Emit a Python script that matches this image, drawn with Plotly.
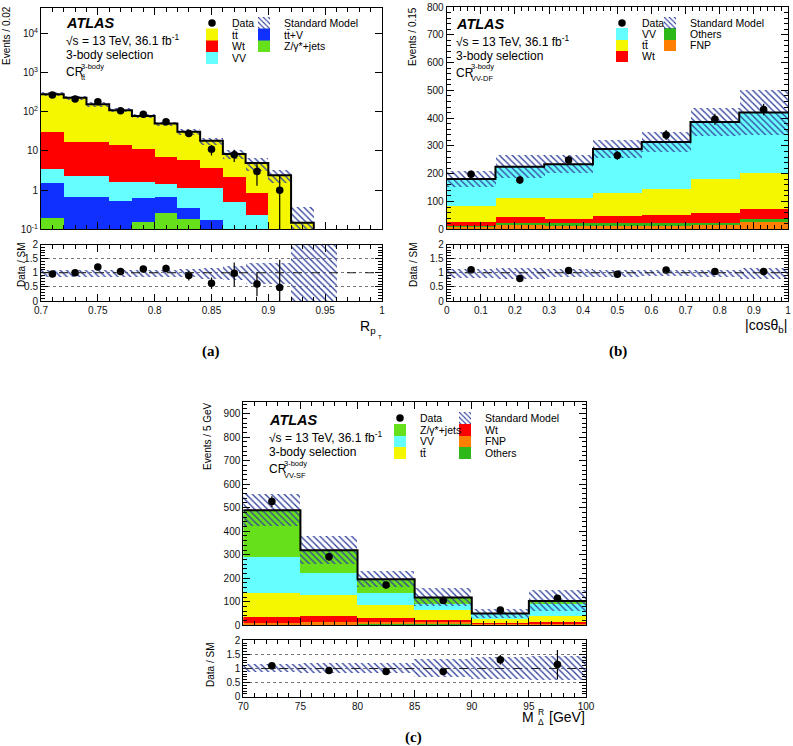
import plotly.graph_objects as go

W, H = 793, 746
FONT = "Liberation Sans, Arial, sans-serif"
TT = "tt\u0304"

# ---------------- panel (a): R_pT, CR_tt ----------------
a_edges = [0.70, 0.72, 0.74, 0.76, 0.78, 0.80, 0.82, 0.84, 0.86, 0.88, 0.90, 0.92, 0.94, 0.96, 0.98, 1.00]
a_zjets = [0.19, 0.03, 0.03, 0.02, 0.15, 0.26, 0.18, 0.05, 0.03, 0.02, 0, 0, 0, 0, 0]
a_ttv = [1.30, 0.65, 0.65, 0.51, 0.48, 0.42, 0.16, 0.12, 0.02, 0.01, 0, 0, 0, 0, 0]
a_vv = [1.97, 1.66, 1.66, 1.05, 0.95, 0.73, 0.77, 0.94, 0.46, 0.20, 0, 0, 0, 0, 0]
a_wt = [26.5, 15.0, 15.0, 12.5, 9.4, 5.7, 4.8, 2.6, 1.7, 0.63, 0, 0, 0, 0, 0]
a_tt = [252, 212, 138, 96, 67, 43, 25, 14.6, 6.2, 4.1, 2.4, 0.147, 0.01, 0, 0]
a_err = [34, 27, 19, 13, 9.4, 6.0, 4.6, 3.7, 2.1, 1.8, 0.9, 0.23, 0.05, 0, 0]
a_data = [269, 211, 180, 107, 86, 56, 28, 11, 8, 3, 1]
a_data_up = [16, 15, 13, 10, 9, 7.5, 5.3, 3.3, 2.8, 1.7, 1.3]
a_data_dn = [16, 15, 13, 10, 9, 7.5, 5.3, 3.3, 2.8, 1.7, 0.99]
a_ratio = [0.96, 1.0, 1.2, 1.04, 1.13, 1.15, 0.9, 0.63, 0.98, 0.6, 0.48]
a_ratio_up = [0.06, 0.07, 0.08, 0.10, 0.11, 0.13, 0.17, 0.2, 0.38, 0.43, 0.98]
a_ratio_dn = [0.06, 0.07, 0.08, 0.10, 0.11, 0.13, 0.17, 0.2, 0.47, 0.43, 0.48]

# ---------------- panel (b): |cos theta_b|, CR_VV-DF ----------------
b_edges = [0.0, 0.142857, 0.285714, 0.428571, 0.571429, 0.714286, 0.857143, 1.0]
b_fnp = [9, 15, 12, 12, 12, 14, 26]
b_others = [2, 9, 10, 10, 10, 10, 12]
b_wt = [16, 21, 16, 26, 31, 35, 34]
b_tt = [57, 66, 73, 81, 91, 121, 129]
b_vv = [97, 114, 123, 160, 170, 206, 219]
b_err = [30, 42, 33, 34, 36, 49, 80]
b_data = [198, 177, 249, 266, 339, 396, 431]
b_data_err = [14, 13, 16, 16, 18, 20, 21]
b_ratio = [1.11, 0.80, 1.08, 0.95, 1.10, 1.04, 1.04]
b_ratio_err = [0.08, 0.06, 0.07, 0.06, 0.06, 0.05, 0.05]

# ---------------- panel (c): M_Delta^R, CR_VV-SF ----------------
c_edges = [70, 75, 80, 85, 90, 95, 100]
c_others = [3, 3, 4, 3, 1, 2]
c_fnp = [6, 8, 10, 12, 4, 4]
c_wt = [25, 29, 14, 8, 3, 6]
c_tt = [102, 89, 58, 39, 18, 28]
c_vv = [155, 92, 50, 26, 21, 50]
c_zjets = [198, 98, 60, 30, 3, 13]
c_err = [69, 58, 34, 38, 20, 44]
c_data = [526, 291, 171, 105, 65, 115]
c_data_err = [23, 17, 13, 10, 8, 11]
c_ratio = [1.10, 0.93, 0.89, 0.89, 1.31, 1.14]
c_ratio_err = [0.05, 0.06, 0.07, 0.09, 0.17, 0.52]

COL = {
    "tt": "#f4f700", "wt": "#ff0000", "vv": "#66ffff", "ttv": "#1030ff",
    "zjets": "#66e01a", "others": "#2fb81a", "fnp": "#ff8000",
}
HATCH = "#34449e"


def centers(e):
    return [(e[i] + e[i + 1]) / 2 for i in range(len(e) - 1)]


def widths(e):
    return [e[i + 1] - e[i] for i in range(len(e) - 1)]


fig = go.Figure()
legend_pos = {}   # legend id -> (text x px, row y px)
_leg_count = [0]


def new_legend(xt, yr):
    _leg_count[0] += 1
    lid = "legend" if _leg_count[0] == 1 else "legend%d" % _leg_count[0]
    legend_pos[lid] = (xt, yr)
    return lid


def panel(edges, comps, err, data, d_up, d_dn, ratio, r_up, r_dn,
          xm, ym, xr, yr, leg_data, leg_sm, log=False):
    xc, wd = centers(edges), widths(edges)
    total = [sum(v[i] for _, v, _, _ in comps) for i in range(len(xc))]
    for name, vals, color, lpos in comps:
        fig.add_trace(go.Bar(x=xc, y=vals, width=wd, name=name, marker=dict(color=color, line=dict(width=0)),
                             xaxis=xm, yaxis=ym, legend=new_legend(*lpos), showlegend=True, hoverinfo="skip"))
    floor = 1e-4 if log else 0
    base = [max(t - e, floor) for t, e in zip(total, err)]
    top = [t + e for t, e in zip(total, err)]
    hatch = dict(color=HATCH, line=dict(width=0),
                 pattern=dict(shape="\\", size=4.5, solidity=0.3, fillmode="replace"))
    fig.add_trace(go.Bar(x=xc, y=[tp - b if e > 0 else 0 for tp, b, e in zip(top, base, err)], base=base, width=wd,
                         name="Standard Model", marker=hatch, xaxis=xm, yaxis=ym, legend=new_legend(*leg_sm),
                         showlegend=True, hoverinfo="skip"))
    line_y = [max(t, 1e-3) if log else t for t in total]
    fig.add_trace(go.Scatter(x=edges, y=line_y + [line_y[-1]], mode="lines",
                             line=dict(shape="hv", color="black", width=2), xaxis=xm, yaxis=ym,
                             showlegend=False, hoverinfo="skip"))
    fig.add_trace(go.Scatter(x=xc[:len(data)], y=data, mode="markers", name="Data",
                             marker=dict(color="black", size=7.5),
                             error_y=dict(type="data", symmetric=False, array=d_up, arrayminus=d_dn,
                                          color="black", thickness=1.2, width=0),
                             xaxis=xm, yaxis=ym, legend=new_legend(*leg_data), showlegend=True))
    # ratio panel
    rel = [e / t if t > 0 else 0 for e, t in zip(err, total)]
    fig.add_trace(go.Bar(x=xc, y=[2 * r for r in rel], base=[1 - r for r in rel], width=wd,
                         marker=hatch, xaxis=xr, yaxis=yr, showlegend=False, hoverinfo="skip"))
    fig.add_trace(go.Scatter(x=xc[:len(ratio)], y=ratio, mode="markers",
                             marker=dict(color="black", size=7.5),
                             error_y=dict(type="data", symmetric=False, array=r_up, arrayminus=r_dn,
                                          color="black", thickness=1.2, width=0),
                             xaxis=xr, yaxis=yr, showlegend=False))


# legend text positions (x of text start, y of row), in pixels
A1, A2, AR = 232, 284, [23, 34.5, 46, 58]
B1, B2, BR = 642, 690, [23, 34, 45, 56]
C1, C2, CRW = 420, 485, [418, 430, 441, 453]

panel(a_edges,
      [("Z/γ*+jets", a_zjets, COL["zjets"], (A2, AR[2])),
       (TT + "+V", a_ttv, COL["ttv"], (A2, AR[1])),
       ("VV", a_vv, COL["vv"], (A1, AR[3])),
       ("Wt", a_wt, COL["wt"], (A1, AR[2])),
       (TT, a_tt, COL["tt"], (A1, AR[1]))],
      a_err, a_data, a_data_up, a_data_dn, a_ratio, a_ratio_up, a_ratio_dn,
      "x", "y", "x2", "y2", (A1, AR[0]), (A2, AR[0]), log=True)

panel(b_edges,
      [("FNP", b_fnp, COL["fnp"], (B2, BR[2])),
       ("Others", b_others, COL["others"], (B2, BR[1])),
       ("Wt", b_wt, COL["wt"], (B1, BR[3])),
       (TT, b_tt, COL["tt"], (B1, BR[2])),
       ("VV", b_vv, COL["vv"], (B1, BR[1]))],
      b_err, b_data, b_data_err, b_data_err, b_ratio, b_ratio_err, b_ratio_err,
      "x3", "y3", "x4", "y4", (B1, BR[0]), (B2, BR[0]))

panel(c_edges,
      [("Others", c_others, COL["others"], (C2, CRW[3])),
       ("FNP", c_fnp, COL["fnp"], (C2, CRW[2])),
       ("Wt", c_wt, COL["wt"], (C2, CRW[1])),
       (TT, c_tt, COL["tt"], (C1, CRW[3])),
       ("VV", c_vv, COL["vv"], (C1, CRW[2])),
       ("Z/γ*+jets", c_zjets, COL["zjets"], (C1, CRW[1]))],
      c_err, c_data, c_data_err, c_data_err, c_ratio, c_ratio_err, c_ratio_err,
      "x5", "y5", "x6", "y6", (C1, CRW[0]), (C2, CRW[0]))

TICKFONT = dict(size=10, color="#111", family=FONT)


def axis(dom, rng, anchor, dtick=None, minor=None, labels=True, **kw):
    d = dict(domain=dom, range=rng, anchor=anchor, showline=True, mirror="allticks", linecolor="black",
             linewidth=1, ticks="inside", ticklen=7, tickcolor="black", showgrid=False, zeroline=False,
             showticklabels=labels, tickfont=TICKFONT, fixedrange=True, automargin=False)
    if dtick is not None:
        d["dtick"] = dtick
    if minor is not None:
        d["minor"] = dict(ticks="inside", ticklen=4, dtick=minor, tickcolor="black", showgrid=False)
    d.update(kw)
    return d


def px(x0, x1):
    return [x0 / W, x1 / W]


def py(top, bottom):
    return [1 - bottom / H, 1 - top / H]


RATIO_Y = dict(tickmode="array", tickvals=[0, 0.5, 1, 1.5, 2], ticktext=["0", "0.5", "1", "1.5", "2"],
               showgrid=True, gridcolor="#777", griddash="dot", gridwidth=1)

log_minor = [m * 10 ** k for k in range(-1, 5) for m in range(2, 10)]

layout_axes = dict(
    xaxis=axis(px(41, 382), [0.7, 1.0], "y", 0.05, 0.01, labels=False, tick0=0.7),
    yaxis=axis(py(8, 229.3), [-1, 4.65], "x", type="log", tickmode="array",
               tickvals=[0.1, 1, 10, 100, 1000, 10000],
               ticktext=["10<sup>-1</sup>", "1", "10", "10<sup>2</sup>", "10<sup>3</sup>", "10<sup>4</sup>"],
               minor=dict(ticks="inside", ticklen=4, tickcolor="black", tickmode="array", tickvals=log_minor)),
    xaxis2=axis(px(41, 382), [0.7, 1.0], "y2", 0.05, 0.01, tick0=0.7),
    yaxis2=axis(py(244.5, 301), [0, 2], "x2", minor=0.1, **RATIO_Y),
    xaxis3=axis(px(446.7, 788), [0, 1], "y3", 0.1, 0.02, labels=False),
    yaxis3=axis(py(7, 229.3), [0, 800], "x3", 100, 20),
    xaxis4=axis(px(446.7, 788), [0, 1], "y4", 0.1, 0.02),
    yaxis4=axis(py(244.5, 301), [0, 2], "x4", minor=0.1, **RATIO_Y),
    xaxis5=axis(px(243.3, 586), [70, 100], "y5", 5, 1, labels=False),
    yaxis5=axis(py(402.3, 625.3), [0, 948], "x5", 100, 20),
    xaxis6=axis(px(243.3, 586), [70, 100], "y6", 5, 1),
    yaxis6=axis(py(640.3, 696.7), [0, 2], "x6", minor=0.1, **RATIO_Y),
)


def leg(xt, yr):
    return dict(x=(xt - 40) / W, y=1 - yr / H, xanchor="left", yanchor="middle", bgcolor="rgba(0,0,0,0)",
                font=dict(size=10.5, family=FONT, color="black"), itemwidth=30, borderwidth=0)


legends = {lid: leg(*pos) for lid, pos in legend_pos.items()}


def txt(x, y, s, size=12, anchor="left", weight="normal", style="normal", family=FONT, angle=0):
    return dict(x=x / W, y=1 - y / H, xref="paper", yref="paper", text=s, showarrow=False,
                xanchor=anchor, yanchor="middle", textangle=angle, borderpad=0,
                font=dict(size=size, family=family, color="black", weight=weight, style=style))


ann = []
for (x0, y0, sub) in [(65, 23, TT), (455, 24, "VV-DF"), (268, 420, "VV-SF")]:
    ann.append(txt(x0, y0, "ATLAS", size=14.5, weight="bold", style="italic"))
    ann.append(txt(x0, y0 + 17, "√s = 13 TeV, 36.1 fb<sup>-1</sup>", size=12))
    ann.append(txt(x0, y0 + 32, "3-body selection", size=12))
    ann.append(txt(x0, y0 + 49, "CR", size=12))
    ann.append(txt(x0 + 15, y0 + 43, "3-body", size=7.5))
    ann.append(txt(x0 + 15, y0 + 55, sub, size=7.5))

SERIF = "Liberation Serif, Times New Roman, serif"
ann += [
    txt(6, 36, "Events / 0.02", size=10, anchor="center", angle=-90),
    txt(21, 265, "Data / SM", size=10, anchor="center", angle=-90),
    txt(412, 37, "Events / 0.15", size=10, anchor="center", angle=-90),
    txt(413, 265, "Data / SM", size=10, anchor="center", angle=-90),
    txt(208, 436, "Events / 5 GeV", size=10, anchor="center", angle=-90),
    txt(210, 665, "Data / SM", size=10, anchor="center", angle=-90),
    txt(377, 327, "R<sub>p</sub>", size=14, anchor="right"),
    txt(380, 337, "T", size=6, anchor="center"),
    txt(788, 326, "|cosθ<sub>b</sub>|", size=14, anchor="right"),
    txt(535, 717, "M", size=14, anchor="right"),
    txt(540.5, 712, "R", size=8.5, anchor="center"),
    txt(540.5, 722, "Δ", size=8.5, anchor="center"),
    txt(586, 717, "[GeV]", size=14, anchor="right"),
    txt(211, 351, "(a)", size=15, anchor="center", weight="bold", family=SERIF),
    txt(618, 351, "(b)", size=15, anchor="center", weight="bold", family=SERIF),
    txt(414, 737, "(c)", size=15, anchor="center", weight="bold", family=SERIF),
]

shapes = []
for xr, yr in [("x2", "y2"), ("x4", "y4"), ("x6", "y6")]:
    shapes.append(dict(type="line", xref=xr + " domain", x0=0, x1=1, yref=yr, y0=1, y1=1,
                       line=dict(color="#222", width=1, dash="dash"), layer="above"))

fig.update_layout(
    width=W, height=H, margin=dict(l=0, r=0, t=0, b=0, autoexpand=False),
    paper_bgcolor="white", plot_bgcolor="white",
    barmode="stack", bargap=0, showlegend=True,
    font=dict(family=FONT, color="black"),
    annotations=ann, shapes=shapes,
    **legends,
    **layout_axes,
)

fig.write_html("out.html", config={"displayModeBar": False},
               post_script="document.body.style.margin='0px';document.body.style.overflow='hidden';")
